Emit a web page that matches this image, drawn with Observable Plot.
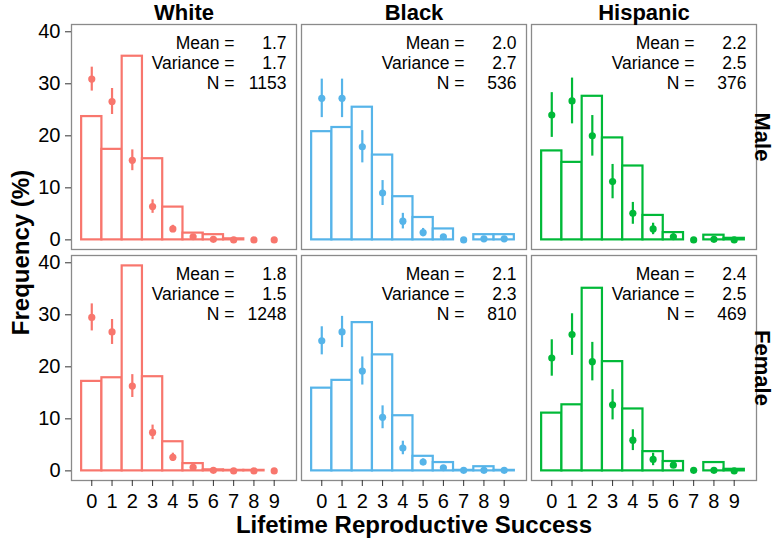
<!DOCTYPE html>
<html><head><meta charset="utf-8">
<script src="https://cdn.jsdelivr.net/npm/d3@7"></script>
<script src="https://cdn.jsdelivr.net/npm/@observablehq/plot@0.6"></script>
<style>body{margin:0;background:#fff;} svg{display:block}</style>
</head><body><div id="chart"></div>
<script>
const races = ["White", "Black", "Hispanic"];
const sexes = ["Male", "Female"];
const raceColors = ["#F8766D", "#56B4E9", "#00B938"];
const lrsValues = [0, 1, 2, 3, 4, 5, 6, 7, 8, 9];
const yTicks = [0, 10, 20, 30, 40];

// Bars: observed frequency (%) by lifetime reproductive success (null = no bar)
const barsWhiteMale      = [23.7, 17.4, 35.3, 15.6, 6.3, 1.3, 1.0, 0.2, null, null];
const barsBlackMale      = [20.8, 21.6, 25.5, 16.3, 8.3, 4.3, 2.1, null, 1.0, 1.0];
const barsHispanicMale   = [17.1, 14.9, 27.6, 19.6, 14.2, 4.7, 1.4, null, 0.9, 0.3];
const barsWhiteFemale    = [17.2, 17.9, 39.4, 18.1, 5.6, 1.4, 0.2, 0.1, 0.1, null];
const barsBlackFemale    = [15.9, 17.4, 28.5, 22.3, 10.6, 2.8, 1.6, 0.1, 0.8, 0.1];
const barsHispanicFemale = [11.1, 12.7, 35.1, 21.0, 11.9, 3.7, 1.8, null, 1.6, 0.3];

// Points: estimated frequency (%) and error half-width
const ptsWhiteMale      = [30.9, 26.6, 15.3, 6.4, 2.1, 0.6, 0.1, 0, 0, 0];
const errWhiteMale      = [2.3, 2.5, 2.0, 1.3, 0.7, 0.4, 0.1, 0, 0, 0];
const ptsBlackMale      = [27.2, 27.2, 17.9, 9.0, 3.6, 1.4, 0.6, 0, 0.2, 0.2];
const errBlackMale      = [3.7, 3.7, 3.1, 2.4, 1.5, 0.8, 0.4, 0, 0.2, 0.2];
const ptsHispanicMale   = [24.0, 26.7, 20.0, 11.2, 5.1, 2.1, 0.6, 0, 0.1, 0];
const errHispanicMale   = [4.3, 4.4, 3.9, 3.3, 2.1, 1.1, 0.6, 0, 0.2, 0];
const ptsWhiteFemale    = [29.5, 26.7, 16.3, 7.4, 2.6, 0.7, 0.1, 0, 0, 0];
const errWhiteFemale    = [2.6, 2.4, 2.2, 1.4, 0.8, 0.4, 0.1, 0, 0, 0];
const ptsBlackFemale    = [25.0, 26.7, 19.2, 10.3, 4.4, 1.7, 0.6, 0.1, 0.1, 0.1];
const errBlackFemale    = [2.7, 3.0, 2.7, 2.2, 1.3, 0.6, 0.3, 0, 0, 0];
const ptsHispanicFemale = [21.7, 26.2, 21.0, 12.7, 5.9, 2.2, 1.1, 0.1, 0.1, 0];
const errHispanicFemale = [3.5, 4.0, 3.7, 2.9, 2.0, 1.2, 0.6, 0, 0, 0];

// Panel statistics (order: Male W,B,H then Female W,B,H)
const meanValues     = [1.7, 2.0, 2.2, 1.8, 2.1, 2.4];
const varianceValues = [1.7, 2.7, 2.5, 1.5, 2.3, 2.5];
const nValues        = [1153, 536, 376, 1248, 810, 469];

const panels = [
  {race: "White", sex: "Male", bars: barsWhiteMale, pts: ptsWhiteMale, err: errWhiteMale},
  {race: "Black", sex: "Male", bars: barsBlackMale, pts: ptsBlackMale, err: errBlackMale},
  {race: "Hispanic", sex: "Male", bars: barsHispanicMale, pts: ptsHispanicMale, err: errHispanicMale},
  {race: "White", sex: "Female", bars: barsWhiteFemale, pts: ptsWhiteFemale, err: errWhiteFemale},
  {race: "Black", sex: "Female", bars: barsBlackFemale, pts: ptsBlackFemale, err: errBlackFemale},
  {race: "Hispanic", sex: "Female", bars: barsHispanicFemale, pts: ptsHispanicFemale, err: errHispanicFemale}
];

const barRows = [], ptRows = [], statRows = [];
panels.forEach((p, i) => {
  lrsValues.forEach((k, j) => {
    if (p.bars[j] != null) barRows.push({race: p.race, sex: p.sex, k, v: p.bars[j]});
    ptRows.push({race: p.race, sex: p.sex, k, v: p.pts[j], e: p.err[j]});
  });
  statRows.push({race: p.race, sex: p.sex, mean: meanValues[i], variance: varianceValues[i], n: nValues[i]});
});

const f1 = d3.format(".1f");

const chart = Plot.plot({
  width: 781,
  height: 544,
  marginLeft: 70,
  marginRight: 25,
  marginTop: 24,
  marginBottom: 64,
  style: {fontFamily: "'Liberation Sans', Arial, sans-serif", fontSize: "18px", color: "#111", background: "#fff"},
  x: {domain: [-1, 10.1]},
  y: {domain: [-1.85, 41.4]},
  fx: {domain: races, paddingInner: 0.022, paddingOuter: 0},
  fy: {domain: sexes, paddingInner: 0.026, paddingOuter: 0},
  color: {domain: races, range: raceColors},
  marks: [
    Plot.frame({stroke: "#8a8a8a", strokeWidth: 1.3}),
    Plot.rectY(barRows, {fx: "race", fy: "sex", x1: d => d.k - 0.5, x2: d => d.k + 0.5, y1: 0, y2: "v",
      fill: "white", stroke: "race", strokeWidth: 2.2}),
    Plot.ruleX(ptRows, {fx: "race", fy: "sex", x: "k", y1: d => d.v - d.e, y2: d => d.v + d.e,
      stroke: "race", strokeWidth: 2.2}),
    Plot.dot(ptRows, {fx: "race", fy: "sex", x: "k", y: "v", r: 3.6, fill: "race", stroke: null}),
    Plot.text(statRows, {fx: "race", fy: "sex", text: () => "Mean =\nVariance =\nN =",
      frameAnchor: "top-right", textAnchor: "end", lineAnchor: "top", dx: -62, dy: 10, lineHeight: 1.15, fontSize: 17.5, fill: "#000"}),
    Plot.text(statRows, {fx: "race", fy: "sex", text: d => `${f1(d.mean)}\n${f1(d.variance)}\n${d.n}`,
      frameAnchor: "top-right", textAnchor: "end", lineAnchor: "top", dx: -10, dy: 10, lineHeight: 1.15, fontSize: 17.5, fill: "#000"}),
    Plot.axisX({ticks: lrsValues, tickSize: 6, tickPadding: 7, label: null, fontSize: 20, stroke: "#333", fill: "#000"}),
    Plot.axisY({ticks: yTicks, tickSize: 6, tickPadding: 5, label: null, fontSize: 20, stroke: "#333", fill: "#000"}),
    Plot.axisFx({anchor: "top", tickSize: 0, tickPadding: 5, label: null, fontSize: 22, fontWeight: "bold", fill: "#000"}),
    Plot.axisFy({anchor: "right", tickSize: 0, tickPadding: 14, tickRotate: 90, label: null, fontSize: 22, fontWeight: "bold", fill: "#000"}),
    Plot.text([{race: "Black", sex: "Female"}], {fx: "race", fy: "sex", text: () => "Lifetime Reproductive Success",
      frameAnchor: "bottom", textAnchor: "middle", lineAnchor: "middle", dy: 45, fontSize: 24, fontWeight: "bold", fill: "#000"}),
    Plot.text([{race: "White", sex: "Male"}], {fx: "race", fy: "sex", text: () => "Frequency (%)",
      frameAnchor: "bottom-left", textAnchor: "middle", lineAnchor: "middle", rotate: -90, dx: -50, dy: 3, fontSize: 24, fontWeight: "bold", fill: "#000"})
  ]
});
document.getElementById("chart").appendChild(chart);
</script>
</body></html>
